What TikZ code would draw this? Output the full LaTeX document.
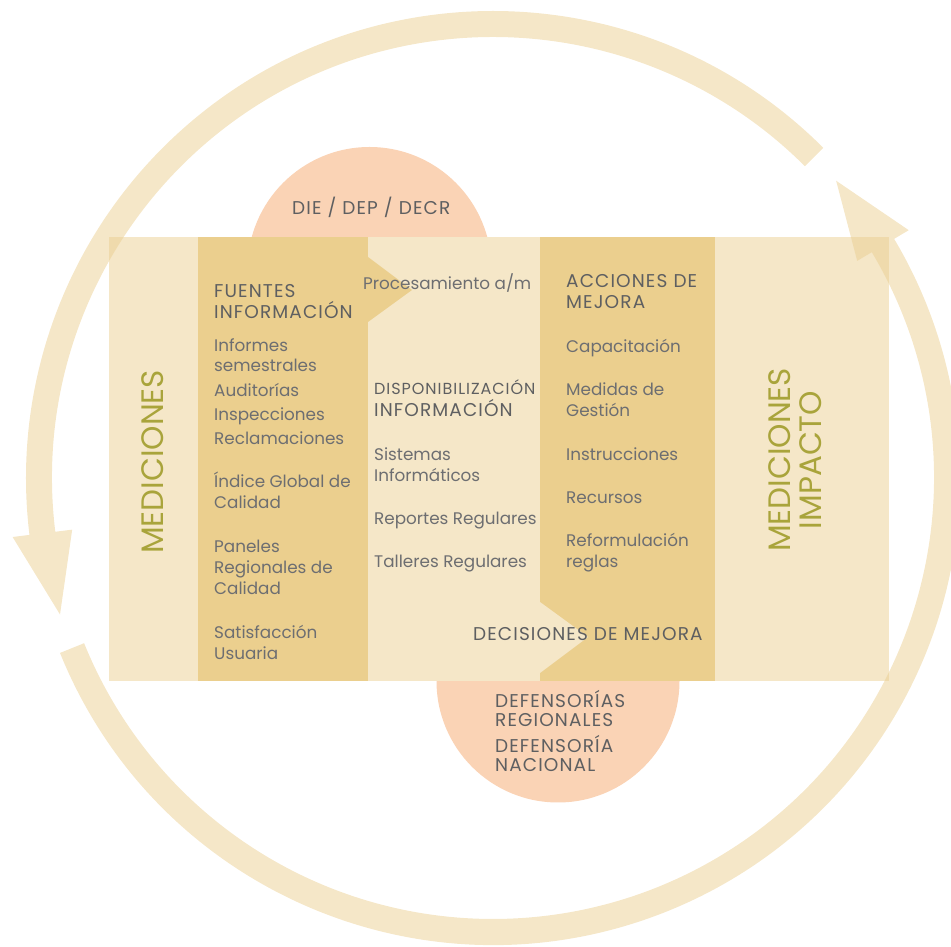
\documentclass[tikz,border=0pt]{standalone}
\usepackage{fontspec}
\setmainfont{Poppins}
\newfontfamily\headfont[LetterSpace=6]{Poppins}
\definecolor{bandlight}{HTML}{F5E7C8}
\definecolor{banddark}{HTML}{EBCF8E}
\definecolor{ringcol}{HTML}{EBCF91}
\definecolor{salmon}{HTML}{FAD3B5}
\definecolor{textgray}{HTML}{6D6E71}
\definecolor{headgray}{HTML}{5E5F61}
\definecolor{olive}{HTML}{A9A43B}

\begin{document}
\begin{tikzpicture}[x=1pt,y=1pt,
    item/.style={anchor=base west,inner sep=0,text=textgray,font=\fontsize{16.8}{20}\selectfont},
    head/.style={anchor=base west,inner sep=0,text=headgray,font=\headfont\fontsize{18.5}{21}\selectfont},
    vert/.style={rotate=90,inner sep=0,text=olive,align=center,font=\fontsize{31}{31}\selectfont},
    ringarrow/.style={fill=ringcol,fill opacity=.5}]
    \useasboundingbox (0,0) rectangle (951,946);

    % circles behind the band
    \fill[salmon] (369.5,677) circle[radius=122];
    \fill[salmon] (558,265) circle[radius=121.5];

    % band, columns and chevrons
    \fill[bandlight] (109,265) rectangle (889,709);
    \fill[banddark] (198,265) rectangle (368,709);
    \fill[banddark] (540,265) rectangle (715,709);
    \fill[banddark] (368,689) -- (412,656) -- (368,624) -- cycle;
    \fill[bandlight] (540,344) -- (588,309) -- (540,273) -- cycle;

    % ring: two arrows
    \begin{scope}[shift={(493,468)}]
    \fill[ringarrow] (45:467) arc[start angle=45,end angle=187,radius=467]
        -- (187:484) -- (197.5:454) -- (187:424) -- (187:441)
        arc[start angle=187,end angle=45,radius=441] -- cycle;
    \fill[ringarrow] (202:467) arc[start angle=202,end angle=390.8,radius=467]
        -- (390.8:484) -- (400.9:454) -- (390.8:424) -- (390.8:441)
        arc[start angle=390.8,end angle=202,radius=441] -- cycle;
    \end{scope}

    % side labels
    \node[vert] (mediciones) at (153,484) {MEDICIONES};
    \node[vert] (impacto) at (795,486) {MEDICIONES\\IMPACTO};

    % circles
    \node[head] (die) at (292,{946-215}) {DIE / DEP / DECR};
    \foreach \txt/\py [count=\i] in {DEFENSORÍAS/708,REGIONALES/727,DEFENSORÍA/753,NACIONAL/772}
        \node[head] (defensoria\i) at (495,{946-\py}) {\txt};

    % left column
    \node[head] (fuentes) at (214,{946-298}) {FUENTES};
    \node[head] (informacion) at (214,{946-319}) {INFORMACIÓN};
    \foreach \txt/\py [count=\i] in {Informes/352,semestrales/372,Auditorías/397,
        Inspecciones/421,Reclamaciones/445,Índice Global de/488,Calidad/509,
        Paneles/553,Regionales de/574,Calidad/595,Satisfacción/639,Usuaria/660}
        \node[item] (fuente\i) at (214,{946-\py}) {\txt};

    % middle column
    \node[item] (procesamiento) at (363,{946-290}) {Procesamiento a/m};
    \node[head,font=\headfont\fontsize{16}{18}\selectfont] (disponib) at (374,{946-395}) {DISPONIBILIZACIÓN};
    \node[head] (informacion2) at (374,{946-417}) {INFORMACIÓN};
    \foreach \txt/\py [count=\i] in {Sistemas/461,Informáticos/482,
        Reportes Regulares/525,Talleres Regulares/568}
        \node[item] (medio\i) at (374,{946-\py}) {\txt};
    \node[head] (decisiones) at (473,{946-641}) {DECISIONES DE MEJORA};

    % right column
    \node[head] (acciones) at (566,{946-288}) {ACCIONES DE};
    \node[head] (mejora) at (566,{946-309}) {MEJORA};
    \foreach \txt/\py [count=\i] in {Capacitación/353,Medidas de/396,Gestión/417,
        Instrucciones/461,Recursos/504,Reformulación/547,reglas/568}
        \node[item] (accion\i) at (566,{946-\py}) {\txt};
\end{tikzpicture}
\end{document}
